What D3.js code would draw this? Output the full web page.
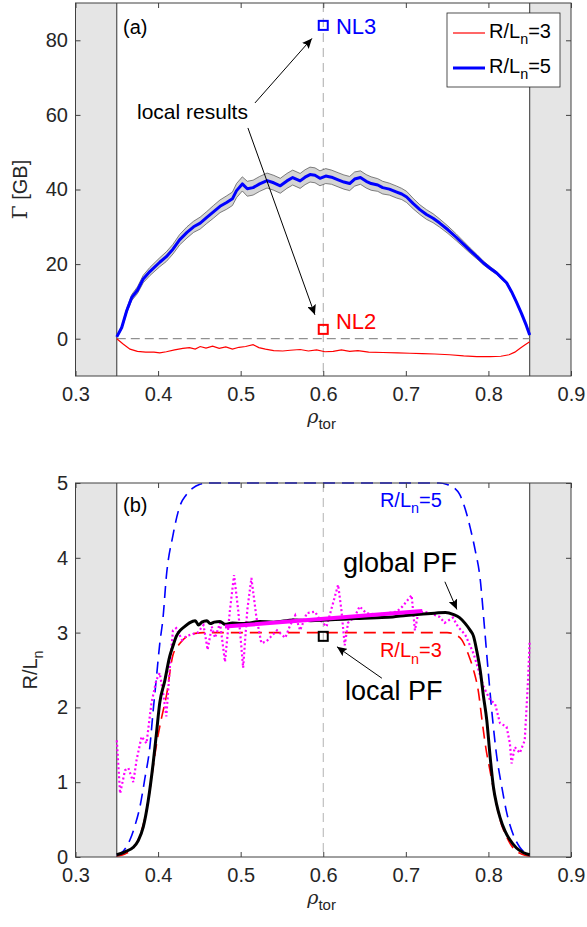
<!DOCTYPE html>
<html>
<head>
<meta charset="utf-8">
<script src="https://cdn.jsdelivr.net/npm/d3@7"></script>
<style>
body { margin: 0; background: #fff; }
svg text { font-family: 'Liberation Sans', Arial, Helvetica, sans-serif; fill: #262626; }
</style>
</head>
<body>
<svg id="chart" width="587" height="927"></svg>
<script>
// ---- data ----
var xTicks = [0.3, 0.4, 0.5, 0.6, 0.7, 0.8, 0.9];
var fluxTicks = [0, 20, 40, 60, 80];
var pfTicks = [0, 1, 2, 3, 4, 5];

// panel (a): particle flux, R/Ln=5 (with error band) and R/Ln=3
var fluxRho5 = [0.350,0.356,0.362,0.368,0.375,0.382,0.390,0.402,0.410,0.418,0.426,0.435,0.443,0.451,0.459,0.467,0.475,0.483,0.490,0.495,0.502,0.508,0.515,0.523,0.532,0.540,0.548,0.556,0.563,0.572,0.578,0.584,0.590,0.596,0.603,0.610,0.618,0.625,0.632,0.638,0.645,0.652,0.658,0.666,0.672,0.680,0.689,0.695,0.701,0.709,0.717,0.725,0.733,0.741,0.751,0.761,0.770,0.778,0.786,0.794,0.802,0.810,0.816,0.822,0.828,0.834,0.840,0.846,0.850];
var flux5 = [0.5,3,7.5,11,13,16,18,20.5,22,24,26.5,28.5,30,31,32.5,34,35.5,36.5,37.5,39.7,41.5,40.2,40.5,41.5,42.4,41.8,41,42.3,43.2,42.3,43.3,44,43.8,43,43.6,43.3,42.6,42,41.6,42.8,43.2,42.2,41.6,41.2,40.5,40.1,39.3,38.8,38,36.2,34.6,33.3,32.3,31,29.2,27.2,25.3,23.6,22,20.3,18.9,17.6,16.3,15,12.6,9.8,6.8,3.5,1];
var flux5Err = [0.2,0.4,0.6,0.8,0.9,1.0,1.1,1.2,1.3,1.3,1.4,1.5,1.5,1.6,1.6,1.7,1.7,1.8,1.8,1.9,1.9,2.0,2.0,2.0,2.0,2.0,2.0,2.0,2.0,2.0,2.0,2.0,2.0,2.0,2.0,1.9,1.9,1.9,1.9,1.9,1.8,1.8,1.8,1.7,1.7,1.6,1.6,1.5,1.5,1.4,1.3,1.3,1.2,1.1,1.0,0.9,0.8,0.7,0.6,0.5,0.45,0.4,0.35,0.3,0.3,0.25,0.2,0.2,0.1];
var fluxRho3 = [0.350,0.358,0.366,0.375,0.385,0.395,0.402,0.410,0.420,0.430,0.438,0.445,0.451,0.458,0.466,0.474,0.482,0.490,0.498,0.506,0.515,0.522,0.530,0.540,0.551,0.560,0.572,0.582,0.592,0.602,0.612,0.622,0.632,0.642,0.655,0.672,0.690,0.705,0.720,0.735,0.753,0.770,0.786,0.802,0.815,0.825,0.832,0.838,0.844,0.850];
var flux3 = [0,-1.5,-2.8,-3.4,-3.6,-3.6,-3.8,-3.5,-3.0,-2.6,-2.4,-2.8,-2.1,-2.5,-2.0,-2.6,-2.2,-2.8,-2.3,-2.1,-1.6,-2.4,-2.8,-3.2,-3.3,-3.1,-2.9,-3.3,-3.0,-3.5,-3.4,-3.0,-3.4,-3.2,-3.6,-3.7,-3.8,-3.9,-4.0,-4.1,-4.3,-4.6,-4.8,-4.8,-4.7,-4.3,-3.6,-2.6,-1.7,-0.8];

// local simulations at rho = 0.6
var localRho = 0.6;
var nl3Flux = 84;
var nl2Flux = 2.5;
var localPF = 2.95;

// panel (b): gradient profiles
var pfRho5 = [0.350,0.358,0.366,0.372,0.378,0.384,0.390,0.394,0.398,0.402,0.406,0.410,0.418,0.426,0.434,0.442,0.450,0.460,0.740,0.750,0.758,0.765,0.772,0.778,0.784,0.790,0.795,0.800,0.805,0.810,0.816,0.822,0.830,0.838,0.845,0.850];
var pf5 = [0.02,0.08,0.23,0.42,0.67,1.05,1.47,1.95,2.4,2.85,3.2,3.75,4.3,4.68,4.84,4.93,4.98,5,5,4.98,4.94,4.85,4.65,4.4,4.1,3.72,3.1,2.45,1.85,1.35,0.95,0.6,0.3,0.13,0.05,0.02];
var pfRho3 = [0.350,0.360,0.370,0.380,0.388,0.394,0.398,0.404,0.410,0.418,0.426,0.435,0.445,0.455,0.750,0.760,0.768,0.776,0.782,0.788,0.792,0.797,0.802,0.808,0.814,0.822,0.830,0.840,0.850];
var pf3 = [0.01,0.04,0.12,0.35,0.75,1.2,1.5,1.85,2.15,2.7,2.85,2.95,2.99,3,3,2.97,2.9,2.7,2.5,2.2,1.85,1.45,1.15,0.8,0.5,0.27,0.12,0.04,0.01];
var pfRhoGlobal = [0.350,0.360,0.370,0.376,0.382,0.388,0.394,0.398,0.402,0.408,0.414,0.418,0.422,0.426,0.432,0.438,0.445,0.449,0.453,0.459,0.463,0.468,0.475,0.481,0.490,0.500,0.511,0.523,0.540,0.564,0.585,0.604,0.625,0.644,0.665,0.684,0.700,0.721,0.735,0.748,0.758,0.765,0.772,0.778,0.782,0.786,0.790,0.794,0.798,0.802,0.806,0.810,0.814,0.820,0.826,0.834,0.842,0.850];
var pfGlobal = [0.03,0.07,0.13,0.22,0.4,0.75,1.25,1.65,2.06,2.35,2.68,2.82,2.95,3.02,3.08,3.13,3.16,3.1,3.14,3.16,3.12,3.14,3.15,3.11,3.13,3.12,3.13,3.15,3.14,3.17,3.16,3.17,3.18,3.19,3.2,3.21,3.23,3.25,3.26,3.27,3.24,3.2,3.12,3.03,2.95,2.75,2.5,2.15,1.83,1.35,0.94,0.7,0.53,0.35,0.23,0.12,0.06,0.03];
var pfRhoDot = [0.350,0.354,0.360,0.364,0.370,0.374,0.380,0.386,0.392,0.398,0.402,0.406,0.410,0.414,0.418,0.422,0.429,0.434,0.439,0.448,0.455,0.460,0.465,0.469,0.475,0.481,0.487,0.492,0.497,0.503,0.508,0.513,0.519,0.525,0.531,0.537,0.544,0.554,0.560,0.566,0.572,0.580,0.590,0.596,0.604,0.612,0.618,0.622,0.626,0.630,0.638,0.644,0.652,0.665,0.677,0.689,0.696,0.707,0.711,0.715,0.721,0.729,0.741,0.747,0.757,0.763,0.772,0.782,0.788,0.794,0.802,0.808,0.814,0.822,0.826,0.828,0.832,0.838,0.844,0.848,0.850];
var pfDot = [1.56,0.85,1.16,1.19,1.0,1.3,1.61,1.52,2.06,2.37,2.46,2.2,1.88,2.5,3.03,3.06,2.9,2.95,2.97,3.0,3.1,2.77,3.08,2.93,3.13,2.61,3.3,3.77,3.3,2.53,3.3,3.73,3.21,2.86,2.88,2.95,3.03,2.93,3.1,3.23,3.03,3.26,3.28,3.17,3.08,3.4,3.64,3.3,2.83,3.13,3.21,3.35,3.26,3.24,3.26,3.28,3.35,3.5,3.03,3.26,3.28,3.26,3.21,3.13,3.2,3.08,2.97,2.72,2.5,2.28,2.1,2.05,1.79,1.74,1.52,1.25,1.47,1.39,1.56,2.37,2.9];
var fitRho = [0.481, 0.720];
var fitPF = [3.08, 3.29];

var svg = d3.select('#chart');

var x = d3.scaleLinear().domain([0.3, 0.9]).range([75.5, 571]);
var yFlux = d3.scaleLinear().domain([-10, 90]).range([376, 3]);
var yPF = d3.scaleLinear().domain([0, 5]).range([857, 483]);

var defs = svg.append('defs');
defs.append('marker')
    .attr('id', 'arrowhead')
    .attr('markerUnits', 'userSpaceOnUse')
    .attr('markerWidth', 11)
    .attr('markerHeight', 9)
    .attr('refX', 10)
    .attr('refY', 4.5)
    .attr('orient', 'auto')
    .append('path')
    .attr('d', 'M0,0 L10,4.5 L0,9 L2,4.5 Z')
    .attr('fill', '#000');

function zip(a, b) {
    return a.map((v, i) => [v, b[i]]);
}

// text with a lowered subscript part, parts = [[text, isSub], ...]
function subText(g, px, py, parts, size, color, anchor) {
    var t = g.append('text')
        .attr('x', px)
        .attr('y', py)
        .attr('font-size', size)
        .attr('text-anchor', anchor || 'start')
        .style('fill', color);
    var shift = 0;
    parts.forEach(p => {
        var s = t.append('tspan').text(p[0]);
        if (p[1]) {
            s.attr('dy', size * 0.32).attr('font-size', size * 0.72);
            shift = size * 0.32;
        } else if (shift) {
            s.attr('dy', -shift);
            shift = 0;
        }
    });
    return t;
}

// gray excluded regions at both ends
function drawFrame(g, y, bottom) {
    var top = y.range()[1];
    [[0.3, 0.35], [0.85, 0.9]].forEach(r => {
        g.append('rect')
            .attr('x', x(r[0]))
            .attr('y', top)
            .attr('width', x(r[1]) - x(r[0]))
            .attr('height', bottom - top)
            .attr('fill', '#e5e5e5');
    });
    [0.35, 0.85].forEach(v => {
        g.append('line')
            .attr('x1', x(v)).attr('x2', x(v))
            .attr('y1', top).attr('y2', bottom)
            .attr('stroke', '#333').attr('stroke-width', 1);
    });
}

// box, inward ticks on all sides, tick labels and rho_tor label
function drawAxes(g, y, yTicks, bottom) {
    var top = y.range()[1];
    var xAxis = d3.axisBottom(x).tickValues(xTicks).tickSizeInner(-5).tickSizeOuter(0)
        .tickPadding(11).tickFormat(d3.format('.1f'));
    var xAxisTop = d3.axisTop(x).tickValues(xTicks).tickSizeInner(-5).tickSizeOuter(0).tickFormat('');
    var yAxis = d3.axisLeft(y).tickValues(yTicks).tickSizeInner(-5).tickSizeOuter(0)
        .tickPadding(7.5).tickFormat(d3.format('d'));
    var yAxisRight = d3.axisRight(y).tickValues(yTicks).tickSizeInner(-5).tickSizeOuter(0).tickFormat('');

    g.append('g').attr('class', 'x axis').attr('transform', 'translate(0,' + bottom + ')').call(xAxis);
    g.append('g').attr('transform', 'translate(0,' + top + ')').call(xAxisTop);
    g.append('g').attr('class', 'y axis').attr('transform', 'translate(' + x(0.3) + ',0)').call(yAxis);
    g.append('g').attr('transform', 'translate(' + x(0.9) + ',0)').call(yAxisRight);

    g.selectAll('.domain').remove();
    g.selectAll('.tick line').attr('stroke', '#404040');
    g.selectAll('.tick text').attr('font-size', 20).style('fill', '#262626')
        .style('font-family', "'Liberation Sans', Arial, Helvetica, sans-serif");

    g.append('rect')
        .attr('x', x(0.3))
        .attr('y', top)
        .attr('width', x(0.9) - x(0.3))
        .attr('height', bottom - top)
        .attr('fill', 'none')
        .attr('stroke', '#404040')
        .attr('stroke-width', 1);

    var lab = g.append('text')
        .attr('x', (x(0.3) + x(0.9)) / 2 - 16)
        .attr('y', bottom + 47)
        .attr('font-size', 19);
    lab.append('tspan').text('ρ').style('font-family', "'DejaVu Serif', serif").style('font-style', 'italic');
    lab.append('tspan').text('tor').attr('font-size', 15).attr('dy', 6);
}

function drawArrow(g, y, from, to) {
    g.append('line')
        .attr('x1', x(from[0])).attr('y1', y(from[1]))
        .attr('x2', x(to[0])).attr('y2', y(to[1]))
        .attr('stroke', '#000')
        .attr('stroke-width', 1)
        .attr('marker-end', 'url(#arrowhead)');
}

function drawSquare(g, px, py, color, size) {
    g.append('rect')
        .attr('x', px - size / 2)
        .attr('y', py - size / 2)
        .attr('width', size)
        .attr('height', size)
        .attr('fill', 'none')
        .attr('stroke', color)
        .attr('stroke-width', 2);
}

// ---------------- panel (a) ----------------
function drawFluxPanel() {
    var g = svg.append('g');
    var bottom = yFlux.range()[0];
    drawFrame(g, yFlux, bottom);

    // reference lines
    g.append('line')
        .attr('x1', x(0.35)).attr('x2', x(0.85))
        .attr('y1', yFlux(0)).attr('y2', yFlux(0))
        .attr('stroke', '#777').attr('stroke-width', 1).attr('stroke-dasharray', '9,5');
    g.append('line')
        .attr('x1', x(localRho)).attr('x2', x(localRho))
        .attr('y1', yFlux.range()[1]).attr('y2', bottom)
        .attr('stroke', '#aaa').attr('stroke-width', 1).attr('stroke-dasharray', '9,6');

    var band = fluxRho5.map((r, i) => ({ r: r, lo: flux5[i] - flux5Err[i], hi: flux5[i] + flux5Err[i] }));
    g.append('path')
        .datum(band)
        .attr('d', d3.area().x(d => x(d.r)).y0(d => yFlux(d.lo)).y1(d => yFlux(d.hi)))
        .attr('fill', '#d4d4d4');
    ['lo', 'hi'].forEach(k => {
        g.append('path')
            .datum(band)
            .attr('d', d3.line().x(d => x(d.r)).y(d => yFlux(d[k])))
            .attr('fill', 'none')
            .attr('stroke', '#4d4d4d')
            .attr('stroke-width', 0.7);
    });

    var line = d3.line().x(d => x(d[0])).y(d => yFlux(d[1]));
    g.append('path')
        .datum(zip(fluxRho5, flux5))
        .attr('d', line)
        .attr('fill', 'none')
        .attr('stroke', '#0000ff')
        .attr('stroke-width', 3)
        .attr('stroke-linejoin', 'round');
    g.append('path')
        .datum(zip(fluxRho3, flux3))
        .attr('d', line)
        .attr('fill', 'none')
        .attr('stroke', '#ff0000')
        .attr('stroke-width', 1.2);

    // local results
    drawSquare(g, x(localRho), yFlux(nl3Flux), '#0000ff', 9);
    drawSquare(g, x(localRho), yFlux(nl2Flux), '#ff0000', 9);
    g.append('text').attr('x', x(0.6154)).attr('y', yFlux(81.6)).attr('font-size', 22)
        .style('fill', '#0000ff').text('NL3');
    g.append('text').attr('x', x(0.6154)).attr('y', yFlux(2.6)).attr('font-size', 22)
        .style('fill', '#ff0000').text('NL2');
    g.append('text').attr('x', x(0.3745)).attr('y', yFlux(58.9)).attr('font-size', 21)
        .style('fill', '#000').text('local results');
    drawArrow(g, yFlux, [0.5173, 63.2], [0.5863, 80.5]);
    drawArrow(g, yFlux, [0.5088, 56.5], [0.5899, 6.4]);

    g.append('text').attr('x', x(0.3576)).attr('y', yFlux(81.6)).attr('font-size', 20)
        .style('fill', '#000').text('(a)');

    drawAxes(g, yFlux, fluxTicks, bottom);

    // legend
    var leg = g.append('g');
    leg.append('rect')
        .attr('x', 447).attr('y', 13).attr('width', 113).attr('height', 74)
        .attr('fill', '#fff').attr('stroke', '#262626').attr('stroke-width', 0.8);
    [['3', '#ff0000', 1.2, 33], ['5', '#0000ff', 3, 68]].forEach(e => {
        leg.append('line')
            .attr('x1', 453).attr('x2', 485)
            .attr('y1', e[3]).attr('y2', e[3])
            .attr('stroke', e[1]).attr('stroke-width', e[2]);
        subText(leg, 489, e[3] + 5, [['R/L', false], ['n', true], ['=' + e[0], false]], 20, '#000');
    });

    // y label
    var yl = g.append('text')
        .attr('transform', 'translate(27,' + (yFlux.range()[0] + yFlux.range()[1]) / 2 + ') rotate(-90)')
        .attr('text-anchor', 'middle')
        .attr('font-size', 20);
    yl.append('tspan').text('Γ').style('font-family', "'DejaVu Serif', serif");
    yl.append('tspan').text(' [GB]');
}

// ---------------- panel (b) ----------------
function drawGradientPanel() {
    var g = svg.append('g');
    var bottom = yPF.range()[0];
    drawFrame(g, yPF, bottom);

    g.append('line')
        .attr('x1', x(localRho)).attr('x2', x(localRho))
        .attr('y1', yPF.range()[1]).attr('y2', bottom)
        .attr('stroke', '#b3b3b3').attr('stroke-width', 1).attr('stroke-dasharray', '9,6');

    var line = d3.line().x(d => x(d[0])).y(d => yPF(d[1])).curve(d3.curveMonotoneX);

    g.append('path')
        .datum(zip(pfRho5, pf5))
        .attr('d', line)
        .attr('fill', 'none')
        .attr('stroke', '#0000ff')
        .attr('stroke-width', 1.6)
        .attr('stroke-dasharray', '12,7');
    g.append('path')
        .datum(zip(pfRho3, pf3))
        .attr('d', line)
        .attr('fill', 'none')
        .attr('stroke', '#ff0000')
        .attr('stroke-width', 1.6)
        .attr('stroke-dasharray', '12,7');
    g.append('path')
        .datum(zip(pfRhoDot, pfDot))
        .attr('d', d3.line().x(d => x(d[0])).y(d => yPF(d[1])))
        .attr('fill', 'none')
        .attr('stroke', '#ff00ff')
        .attr('stroke-width', 2.2)
        .attr('stroke-dasharray', '2,2.5');
    g.append('path')
        .datum(zip(pfRhoGlobal, pfGlobal))
        .attr('d', line)
        .attr('fill', 'none')
        .attr('stroke', '#000')
        .attr('stroke-width', 3)
        .attr('stroke-linejoin', 'round');
    g.append('path')
        .datum(zip(fitRho, fitPF))
        .attr('d', d3.line().x(d => x(d[0])).y(d => yPF(d[1])))
        .attr('fill', 'none')
        .attr('stroke', '#ff00ff')
        .attr('stroke-width', 4);

    drawSquare(g, x(localRho), yPF(localPF), '#000', 9);

    // annotations
    g.append('text').attr('x', x(0.3576)).attr('y', yPF(4.61)).attr('font-size', 20)
        .style('fill', '#000').text('(b)');
    g.append('text').attr('x', x(0.6239)).attr('y', yPF(3.81)).attr('font-size', 27)
        .style('fill', '#000').text('global PF');
    g.append('text').attr('x', x(0.6263)).attr('y', yPF(2.10)).attr('font-size', 27)
        .style('fill', '#000').text('local PF');
    drawArrow(g, yPF, [0.7473, 3.68], [0.7618, 3.31]);
    drawArrow(g, yPF, [0.671, 2.39], [0.6166, 2.81]);
    subText(g, x(0.6686), yPF(4.68), [['R/L', false], ['n', true], ['=5', false]], 20, '#0000ff');
    subText(g, x(0.6686), yPF(2.67), [['R/L', false], ['n', true], ['=3', false]], 20, '#ff0000');

    drawAxes(g, yPF, pfTicks, bottom);

    subText(g, 0, 0, [['R/L', false], ['n', true]], 20, '#262626', 'middle')
        .attr('x', null).attr('y', null)
        .attr('transform', 'translate(37,' + (yPF.range()[0] + yPF.range()[1]) / 2 + ') rotate(-90)');
}

drawFluxPanel();
drawGradientPanel();
</script>
</body>
</html>
